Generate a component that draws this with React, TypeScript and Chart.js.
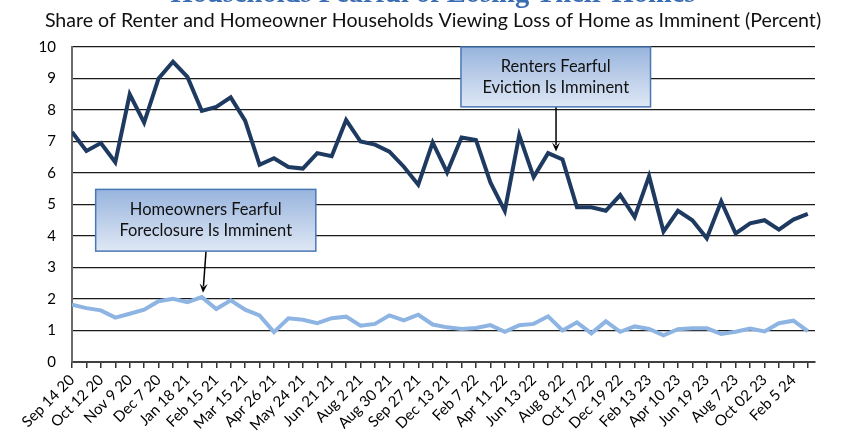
import React, { useEffect, useRef } from "react";
import { Chart, registerables } from "chart.js";

Chart.register(...registerables);

const titleText = "Households Fearful of Losing Their Homes";
const subtitleText =
  "Share of Renter and Homeowner Households Viewing Loss of Home as Imminent (Percent)";

// Labels shown on every other survey week
const tickLabels = [
  "Sep 14 20", "Oct 12 20", "Nov 9 20", "Dec 7 20", "Jan 18 21", "Feb 15 21",
  "Mar 15 21", "Apr 26 21", "May 24 21", "Jun 21 21", "Aug 2 21", "Aug 30 21",
  "Sep 27 21", "Dec 13 21", "Feb 7 22", "Apr 11 22", "Jun 13 22", "Aug 8 22",
  "Oct 17 22", "Dec 19 22", "Feb 13 23", "Apr 10 23", "Jun 19 23", "Aug 7 23",
  "Oct 02 23", "Feb 5 24",
];

const renters = [
  7.3, 6.7, 6.95, 6.34, 8.5, 7.6, 9.0, 9.53, 9.05, 7.97, 8.1, 8.4, 7.66, 6.26,
  6.47, 6.19, 6.14, 6.63, 6.53, 7.68, 7.0, 6.9, 6.68, 6.2, 5.63, 6.97, 6.02,
  7.13, 7.05, 5.7, 4.8, 7.2, 5.87, 6.63, 6.43, 4.91, 4.91, 4.8, 5.3, 4.6, 5.9,
  4.14, 4.8, 4.5, 3.93, 5.1, 4.08, 4.4, 4.5, 4.2, 4.52, 4.7,
];

const homeowners = [
  1.82, 1.71, 1.64, 1.41, 1.53, 1.66, 1.93, 2.01, 1.9, 2.06, 1.68, 1.96, 1.66,
  1.48, 0.95, 1.39, 1.34, 1.23, 1.39, 1.44, 1.15, 1.21, 1.48, 1.32, 1.5, 1.19,
  1.1, 1.05, 1.08, 1.17, 0.96, 1.17, 1.21, 1.45, 1.0, 1.26, 0.91, 1.29, 0.96,
  1.13, 1.05, 0.85, 1.04, 1.07, 1.07, 0.89, 0.96, 1.06, 0.97, 1.23, 1.31, 0.98,
];

const yTicks = [0, 1, 2, 3, 4, 5, 6, 7, 8, 9, 10];

// Annotation callouts in data coordinates (x = survey index, y = percent)
const callouts = [
  {
    lines: ["Renters Fearful", "Eviction Is Imminent"],
    box: { x0: 26.96, x1: 40.1, y0: 10.0, y1: 8.1 },
    arrow: { x0: 33.55, y0: 8.1, x1: 33.55, y1: 6.68 },
  },
  {
    lines: ["Homeowners Fearful", "Foreclosure Is Imminent"],
    box: { x0: 1.64, x1: 16.9, y0: 5.48, y1: 3.52 },
    arrow: { x0: 9.29, y0: 3.52, x1: 9.08, y1: 2.2 },
  },
];

const FONT = "Lato, 'Open Sans', sans-serif";

const decorPlugin = {
  id: "decor",
  beforeDraw(chart: any) {
    const ctx = chart.ctx;
    ctx.save();
    ctx.fillStyle = "#ffffff";
    ctx.fillRect(0, 0, chart.width, chart.height);
    ctx.textAlign = "center";
    ctx.fillStyle = "#3b6db3";
    ctx.font = "bold 28.5px 'Liberation Serif', serif";
    ctx.textBaseline = "alphabetic";
    ctx.fillText(titleText, 433, 2);
    ctx.fillStyle = "#111111";
    ctx.font = `19.6px ${FONT}`;
    ctx.textBaseline = "middle";
    ctx.fillText(subtitleText, 433, 20.5);
    ctx.restore();
  },
  afterDraw(chart: any) {
    const ctx = chart.ctx;
    const xs = chart.scales.x;
    const ys = chart.scales.y;
    ctx.save();
    for (const c of callouts) {
      const l = xs.getPixelForValue(c.box.x0);
      const r = xs.getPixelForValue(c.box.x1);
      const t = ys.getPixelForValue(c.box.y0);
      const b = ys.getPixelForValue(c.box.y1);
      // arrow
      const ax0 = xs.getPixelForValue(c.arrow.x0);
      const ay0 = ys.getPixelForValue(c.arrow.y0);
      const ax1 = xs.getPixelForValue(c.arrow.x1);
      const ay1 = ys.getPixelForValue(c.arrow.y1);
      const ang = Math.atan2(ay1 - ay0, ax1 - ax0);
      const hl = 9;
      const hw = 4;
      ctx.strokeStyle = "#000";
      ctx.lineWidth = 1.5;
      ctx.beginPath();
      ctx.moveTo(ax0, ay0);
      ctx.lineTo(ax1 - Math.cos(ang) * hl * 0.7, ay1 - Math.sin(ang) * hl * 0.7);
      ctx.stroke();
      ctx.fillStyle = "#000";
      ctx.beginPath();
      ctx.moveTo(ax1, ay1);
      ctx.lineTo(
        ax1 - Math.cos(ang) * hl - Math.sin(ang) * hw,
        ay1 - Math.sin(ang) * hl + Math.cos(ang) * hw
      );
      ctx.lineTo(ax1 - Math.cos(ang) * hl * 0.6, ay1 - Math.sin(ang) * hl * 0.6);
      ctx.lineTo(
        ax1 - Math.cos(ang) * hl + Math.sin(ang) * hw,
        ay1 - Math.sin(ang) * hl - Math.cos(ang) * hw
      );
      ctx.closePath();
      ctx.fill();
      // box
      const g = ctx.createLinearGradient(0, t, 0, b);
      g.addColorStop(0, "#98b4dd");
      g.addColorStop(1, "#dfe8f5");
      ctx.fillStyle = g;
      ctx.fillRect(l, t, r - l, b - t);
      ctx.strokeStyle = "#4a78b5";
      ctx.lineWidth = 1.5;
      ctx.strokeRect(l, t, r - l, b - t);
      ctx.fillStyle = "#111";
      ctx.font = `16.5px ${FONT}`;
      ctx.textAlign = "center";
      ctx.textBaseline = "middle";
      const cx = (l + r) / 2;
      const cy = (t + b) / 2;
      ctx.fillText(c.lines[0], cx, cy - 10.5);
      ctx.fillText(c.lines[1], cx, cy + 10.5);
    }
    ctx.restore();
  },
};

export default function App() {
  const ref = useRef<HTMLCanvasElement | null>(null);
  useEffect(() => {
    if (!ref.current) return;
    const chart = new Chart(ref.current, {
      type: "line",
      data: {
        datasets: [
          {
            label: "Renters",
            data: renters.map((v, i) => ({ x: i, y: v })),
            borderColor: "#1f3a60",
            borderWidth: 4,
            pointRadius: 0,
            tension: 0,
          },
          {
            label: "Homeowners",
            data: homeowners.map((v, i) => ({ x: i, y: v })),
            borderColor: "#8db4e2",
            borderWidth: 4,
            pointRadius: 0,
            tension: 0,
          },
        ],
      },
      options: {
        animation: false,
        responsive: false,
        devicePixelRatio: 1,
        layout: { padding: { top: 47, right: 31, left: 0, bottom: 0 } },
        plugins: {
          legend: { display: false },
          tooltip: { enabled: false },
          title: { display: false },
        },
        scales: {
          x: {
            type: "linear",
            min: 0,
            max: renters.length - 0.5,
            afterBuildTicks: (scale: any) => {
              scale.ticks = renters.map((_, i) => ({ value: i }));
            },
            afterFit: (scale: any) => {
              scale.height = 71;
            },
            grid: {
              drawOnChartArea: false,
              drawTicks: true,
              tickLength: 6,
              color: "#333",
              lineWidth: 1.5,
            },
            border: { display: true, color: "#404040", width: 2 },
            ticks: {
              autoSkip: false,
              maxRotation: 45,
              minRotation: 45,
              padding: 3,
              color: "#000",
              font: { family: FONT, size: 15 },
              callback: (v: any) => {
                const n = Number(v);
                return Number.isInteger(n) && n % 2 === 0 ? tickLabels[n / 2] ?? "" : "";
              },
            },
          },
          y: {
            min: 0,
            max: 10,
            afterBuildTicks: (scale: any) => {
              scale.ticks = yTicks.map((v) => ({ value: v }));
            },
            afterFit: (scale: any) => {
              scale.width = 72;
            },
            grid: {
              drawTicks: false,
              color: "#1a1a1a",
              lineWidth: 1.2,
            },
            border: { display: true, color: "#6b6b6b", width: 2 },
            ticks: {
              padding: 16,
              color: "#000",
              font: { family: FONT, size: 15 },
            },
          },
        },
      },
      plugins: [decorPlugin],
    } as any);
    return () => chart.destroy();
  }, []);
  return (
    <div style={{ position: "fixed", left: 0, top: 0, width: 846, height: 433, background: "#fff" }}>
      <canvas ref={ref} width={846} height={433} style={{ display: "block" }} />
    </div>
  );
}
